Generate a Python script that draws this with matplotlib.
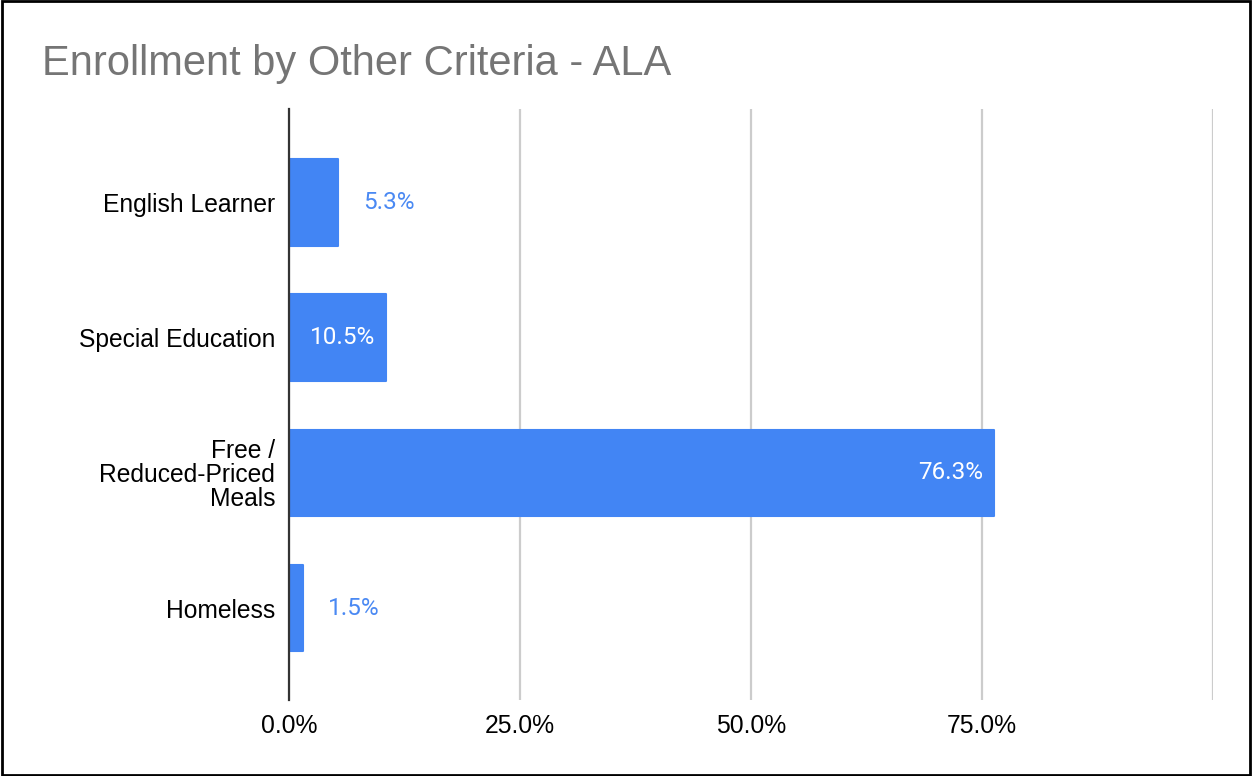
import matplotlib
matplotlib.use("Agg")
import matplotlib.pyplot as plt
from matplotlib.patches import Rectangle

categories = ["English Learner", "Special Education", "Free /\nReduced-Priced\nMeals", "Homeless"]
values = [5.3, 10.5, 76.3, 1.5]
tick_values = [0, 25, 50, 75, 100]
tick_labels = ["0.0%", "25.0%", "50.0%", "75.0%", ""]

BAR = "#4285f4"
LABEL_OUT = "#4a89f3"

fig = plt.figure(figsize=(12.52, 7.76), dpi=100)
ax = fig.add_axes([0.2308, 0.0979, 0.7381, 0.7616])

pos = list(range(len(categories)))
ax.barh(pos, values, height=0.64, color=BAR, edgecolor=BAR, linewidth=1.5,
        joinstyle="round", zorder=3)
ax.set_ylim(len(categories) - 1 + 0.68, -0.69)
ax.set_xlim(0, 100)

for y, v in zip(pos, values):
    label = f"{v:.1f}%"
    if v > 8:
        ax.annotate(label, (v, y), xytext=(-8, 0), textcoords="offset points",
                    ha="right", va="center", color="white", fontsize=17.5,
                    family="Roboto", zorder=4)
    else:
        ax.annotate(label, (v, y), xytext=(18, 0), textcoords="offset points",
                    ha="left", va="center", color=LABEL_OUT, fontsize=17.5,
                    family="Roboto", zorder=4)

ax.set_yticks(pos)
ax.set_yticklabels(categories, family="Liberation Sans", fontsize=17.7,
                   linespacing=1.0)
ax.set_xticks(tick_values)
ax.set_xticklabels(tick_labels, family="Liberation Sans", fontsize=17.8)
ax.tick_params(axis="y", length=0, pad=10)
ax.tick_params(axis="x", length=0, pad=10)

ax.grid(axis="x", color="#cccccc", linewidth=1.6, zorder=0)
for s in ["top", "right", "bottom"]:
    ax.spines[s].set_visible(False)
ax.spines["left"].set_color("#333333")
ax.spines["left"].set_linewidth(1.6)
ax.spines["left"].set_zorder(5)

fig.text(0.0335, 0.917, "Enrollment by Other Criteria - ALA", family="Liberation Sans",
         fontsize=30, color="#757575", ha="left", va="center")

fig.patches.append(Rectangle((0.0012, 0.0015), 0.9976, 0.997, transform=fig.transFigure,
                             fill=False, edgecolor="black", linewidth=2))

fig.savefig("out.png", dpi=100)
